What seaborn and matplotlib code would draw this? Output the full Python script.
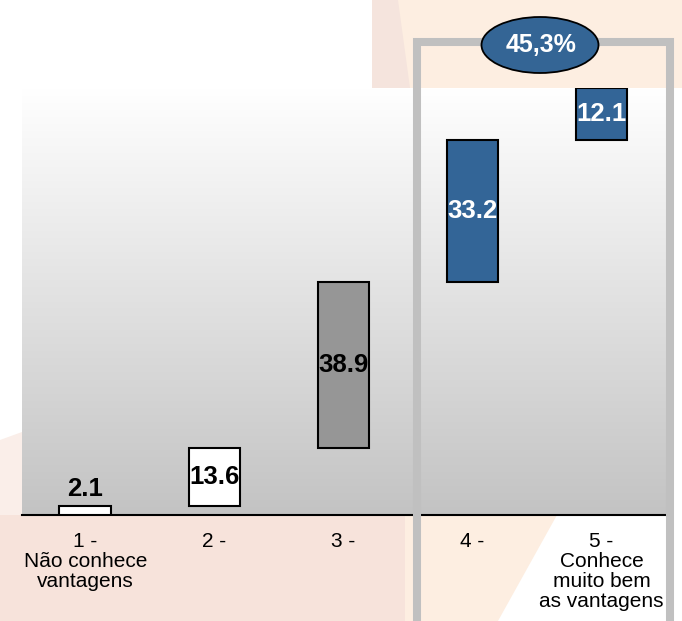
import numpy as np
import pandas as pd
import seaborn as sns
import matplotlib.pyplot as plt
from matplotlib.colors import LinearSegmentedColormap
from matplotlib.patches import Polygon, Rectangle, Ellipse

# data
categories = ["1 -\nNão conhece\nvantagens", "2 -", "3 -", "4 -",
              "5 -\nConhece\nmuito bem\nas vantagens"]
values = [2.1, 13.6, 38.9, 33.2, 12.1]
bar_colors = ["#ffffff", "#ffffff", "#969696", "#336597", "#336597"]
label_colors = ["black", "black", "black", "white", "white"]
highlight_text = "45,3%"

sns.set_theme(style="white")
plt.rcParams["font.family"] = ["Liberation Sans", "DejaVu Sans"]

W, H = 682, 621
fig = plt.figure(figsize=(W / 100, H / 100), dpi=100)


def fx(x):
    return x / W


def fy(y):
    return 1 - y / H


def poly(pts, color, z=0):
    p = Polygon([(fx(x), fy(y)) for x, y in pts], closed=True, facecolor=color,
                edgecolor="none", transform=fig.transFigure, zorder=z)
    fig.add_artist(p)


# watermark-ish background shapes
poly([(372, 0), (682, 0), (682, 88), (372, 88)], "#fdeee1")
poly([(372, 0), (398, 0), (410, 88), (372, 88)], "#f5e4dd")
poly([(0, 440), (22, 432), (22, 515), (0, 515)], "#faeee9")
poly([(0, 515), (405, 515), (405, 621), (0, 621)], "#f7e3db")
poly([(405, 515), (557, 515), (498, 621), (405, 621)], "#fdeee1")

# axes area
left, right, top, bottom = 22, 670, 88, 515
ax = fig.add_axes([fx(left), fy(bottom), (right - left) / W, (bottom - top) / H])
ax.patch.set_alpha(0)

grad = np.linspace(0, 1, 256).reshape(-1, 1)
ax.imshow(grad, extent=[-0.49, 4.53, 0, 100], aspect="auto",
          cmap=LinearSegmentedColormap.from_list("g", ["#c3c3c3", "#ffffff"]),
          origin="lower", zorder=0)

bottoms = list(np.cumsum([0] + values[:-1]))
df = pd.DataFrame({"cat": categories, "val": values})
sns.barplot(data=df, x="cat", y="val", order=categories, color="white",
            width=0.4, edgecolor="black", linewidth=1.5, ax=ax, zorder=3)

for patch, b, c in zip(ax.patches, bottoms, bar_colors):
    patch.set_y(b)
    patch.set_facecolor(c)

for i, (v, b) in enumerate(zip(values, bottoms)):
    if i == 0:
        ypos, va = b + v + 1.2, "bottom"
    else:
        ypos, va = b + v / 2, "center"
    ax.text(i, ypos, f"{v:.1f}", ha="center", va=va, fontsize=18.5,
            fontweight="bold", color=label_colors[i], zorder=5)

ax.set_xlim(-0.49, 4.53)
ax.set_ylim(0, 100)
ax.set_xlabel("")
ax.set_ylabel("")
ax.set_yticks([])
for s in ["top", "right", "left"]:
    ax.spines[s].set_visible(False)
ax.spines["bottom"].set_color("black")
ax.spines["bottom"].set_linewidth(1.5)
ax.tick_params(axis="x", length=0, pad=12, labelsize=15, colors="black")
for lbl in ax.get_xticklabels():
    lbl.set_linespacing(1.08)

# highlight box and ellipse
box = Rectangle((fx(417), fy(700)), (670 - 417) / W, (700 - 42) / H,
                fill=False, edgecolor="#c0c0c0", linewidth=5.8,
                transform=fig.transFigure, zorder=10)
fig.add_artist(box)
ell = Ellipse((fx(540), fy(45)), 117 / W, 56 / H, facecolor="#346595",
              edgecolor="black", linewidth=1.3, transform=fig.transFigure, zorder=11)
fig.add_artist(ell)
fig.text(fx(541), fy(45), highlight_text, ha="center", va="center",
         fontsize=18, fontweight="bold", color="white", zorder=12)

fig.savefig("out.png", dpi=100)
